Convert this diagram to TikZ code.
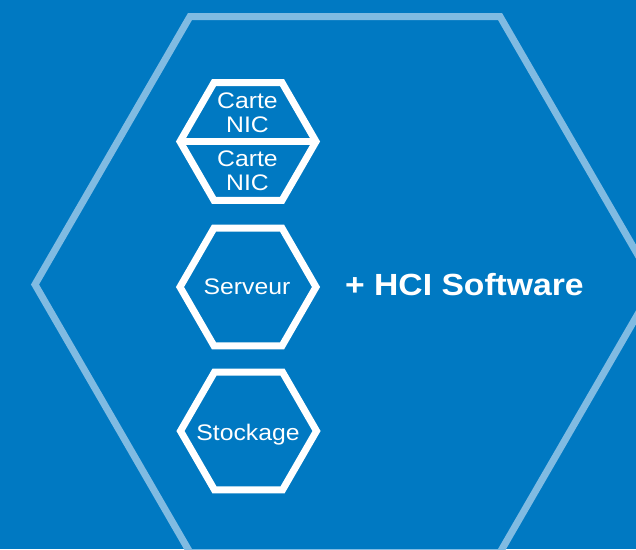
\documentclass[tikz,border=0pt]{standalone}
\usepackage{fontspec}
\setmainfont{Liberation Sans}[FakeStretch=1.1]
\definecolor{bgblue}{HTML}{0079C2}
\definecolor{lightblue}{HTML}{80BBE2}
\begin{document}
\begin{tikzpicture}[x=1pt,y=-1pt,
  bighex/.style={draw=lightblue,line width=7pt,line join=miter},
  smallhex/.style={draw=white,line width=7pt,line join=miter},
  lbl/.style={text=white,inner sep=0pt,align=center,font=\fontsize{22.5}{24}\selectfont},
  hci/.style={text=white,inner sep=0pt,font=\fontsize{30.6}{32}\selectfont\bfseries}]
\useasboundingbox (0,0) rectangle (636,549);
\fill[bgblue] (0,0) rectangle (636,549);
\begin{scope}
\clip (0,0) rectangle (636,549);
\draw[bighex] (35,284.5) -- (190,16.5) -- (500,16.5) -- (655,284.5) -- (500,552.5) -- (190,552.5) -- cycle;
\end{scope}
% NIC double hexagon
\coordinate (cnic) at (248,141.5);
\draw[smallhex] (cnic) ++(-68,0) -- ++(34,-58.9) -- ++(68,0) -- ++(34,58.9) -- ++(-34,58.9) -- ++(-68,0) -- cycle;
\draw[smallhex] (cnic) ++(-68,0) -- ++(136,0);
% Serveur hexagon
\coordinate (cserv) at (248,287);
\draw[smallhex] (cserv) ++(-68,0) -- ++(34,-58.9) -- ++(68,0) -- ++(34,58.9) -- ++(-34,58.9) -- ++(-68,0) -- cycle;
% Stockage hexagon
\coordinate (cstock) at (248.5,431);
\draw[smallhex] (cstock) ++(-68,0) -- ++(34,-58.9) -- ++(68,0) -- ++(34,58.9) -- ++(-34,58.9) -- ++(-68,0) -- cycle;
% labels
\node[lbl] (nic1) at (247.5,113.1) {Carte\\NIC};
\node[lbl] (nic2) at (247.5,170.6) {Carte\\NIC};
\node[lbl,anchor=base] (serv) at (247,294.5) {Serveur};
\node[lbl,anchor=base] (stock) at (248,440) {Stockage};
\node[hci,anchor=base west] (soft) at (345,295) {+ HCI Software};
\end{tikzpicture}
\end{document}
